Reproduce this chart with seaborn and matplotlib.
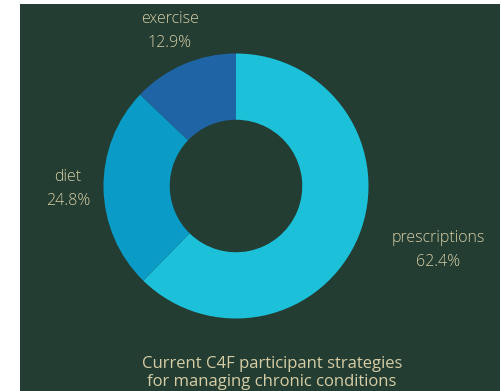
import numpy as np
import matplotlib

matplotlib.use("Agg")
import matplotlib.pyplot as plt
import seaborn as sns

# data
strategies = ["prescriptions", "diet", "exercise"]
shares = [62.4, 24.8, 12.9]
colors = ["#1cc0d8", "#0a9bc6", "#1f65a5"]
title_lines = ["Current C4F participant strategies", "for managing chronic conditions"]

BG = "#233d33"
TXT = "#d6cda4"

sns.set_theme(style="white")
plt.rcParams["font.family"] = ["Open Sans", "DejaVu Sans"]

W, H = 501, 391
fig = plt.figure(figsize=(W / 100, H / 100), dpi=100, facecolor="white")

# dark panel
panel = fig.add_axes([20 / W, 0, 480 / W, 387 / H])
panel.set_facecolor(BG)
panel.set_xticks([])
panel.set_yticks([])
for s in panel.spines.values():
    s.set_visible(False)

# donut
cx, cy, r = 236, 186, 132.5
ax = fig.add_axes([(cx - r) / W, (H - cy - r) / H, 2 * r / W, 2 * r / H])
ax.set_facecolor("none")
wedges, _ = ax.pie(
    shares,
    colors=sns.color_palette(colors),
    startangle=90,
    counterclock=False,
    radius=1,
    wedgeprops=dict(width=0.5, linewidth=0),
)
ax.set_xlim(-1, 1)
ax.set_ylim(-1, 1)
ax.set_aspect("equal")
ax.axis("off")

aligns = ["left", "center", "center"]
for w, name, val, ha in zip(wedges, strategies, shares, aligns):
    mid = np.deg2rad((w.theta1 + w.theta2) / 2)
    x, y = 1.27 * np.cos(mid), 1.27 * np.sin(mid)
    ax.text(x, y, f"{name}\n{val}%", ha=ha, va="center", multialignment="center",
            color=TXT, fontsize=11.5, linespacing=1.65, fontweight="light",
            clip_on=False)

fig.text(272 / W, 1 - 373 / H, "\n".join(title_lines), ha="center", va="center",
         color=TXT, fontsize=12, linespacing=1.1, fontweight="medium")

fig.savefig("out.png", dpi=100, facecolor=fig.get_facecolor())
